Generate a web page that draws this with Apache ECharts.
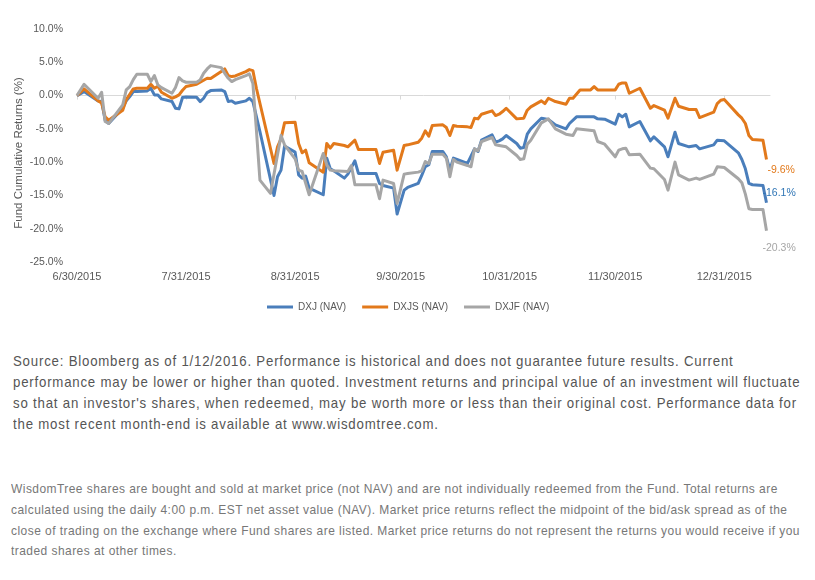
<!DOCTYPE html>
<html>
<head>
<meta charset="utf-8">
<script src="https://cdn.jsdelivr.net/npm/echarts@6/dist/echarts.min.js"></script>
<style>
  html, body { margin: 0; padding: 0; background: #fff; }
  #wrap { position: relative; width: 815px; height: 580px; overflow: hidden; }
  #chart { position: absolute; left: 0; top: 0; width: 815px; height: 330px; }
  .note { position: absolute; margin: 0; white-space: nowrap; transform-origin: 0 0;
          font-family: "Liberation Sans", Arial, sans-serif; }
  #note1 { left: 13px; top: 350px; font-size: 15px; line-height: 21px; letter-spacing: 0.9px; color: #555; }
  #note2 { left: 11px; top: 479px; font-size: 13px; line-height: 20.8px; letter-spacing: 0.5px; color: #777; }
</style>
</head>
<body>
<div id="wrap">
  <div id="chart"></div>
  <p class="note" id="note1">Source: Bloomberg as of 1/12/2016. Performance is historical and does not guarantee future results. Current<br>performance may be lower or higher than quoted. Investment returns and principal value of an investment will fluctuate<br>so that an investor's shares, when redeemed, may be worth more or less than their original cost. Performance data for<br>the most recent month-end is available at www.wisdomtree.com.</p>
  <p class="note" id="note2">WisdomTree shares are bought and sold at market price (not NAV) and are not individually redeemed from the Fund. Total returns are<br>calculated using the daily 4:00 p.m. EST net asset value (NAV). Market price returns reflect the midpoint of the bid/ask spread as of the<br>close of trading on the exchange where Fund shares are listed. Market price returns do not represent the returns you would receive if you<br>traded shares at other times.</p>
</div>
<script>
// tick labels (month ends)
var tickDates = ['2015-06-30', '2015-07-31', '2015-08-31', '2015-09-30', '2015-10-31', '2015-11-30', '2015-12-31'];
var yTicks = [-25, -20, -15, -10, -5, 0, 5, 10];

// DXJ (NAV) - cumulative return %
var dxjDates = ['2015-06-30','2015-07-02','2015-07-06','2015-07-07','2015-07-08','2015-07-09','2015-07-13','2015-07-14','2015-07-15','2015-07-16',
  '2015-07-17','2015-07-20','2015-07-21','2015-07-22','2015-07-23','2015-07-24','2015-07-27','2015-07-28','2015-07-29','2015-07-30',
  '2015-07-31','2015-08-03','2015-08-04','2015-08-05','2015-08-06','2015-08-07','2015-08-10','2015-08-11','2015-08-12','2015-08-13',
  '2015-08-14','2015-08-17','2015-08-18','2015-08-19','2015-08-21','2015-08-25','2015-08-26','2015-08-27','2015-08-28','2015-08-31',
  '2015-09-01','2015-09-02','2015-09-03','2015-09-04','2015-09-08','2015-09-09','2015-09-10','2015-09-11','2015-09-14','2015-09-15',
  '2015-09-17','2015-09-18','2015-09-23','2015-09-24','2015-09-25','2015-09-28','2015-09-29','2015-10-01','2015-10-02','2015-10-05',
  '2015-10-06','2015-10-07','2015-10-08','2015-10-09','2015-10-12','2015-10-13','2015-10-14','2015-10-15','2015-10-16','2015-10-19',
  '2015-10-21','2015-10-22','2015-10-23','2015-10-26','2015-10-27','2015-10-28','2015-10-29','2015-10-30','2015-11-02','2015-11-03',
  '2015-11-04','2015-11-05','2015-11-06','2015-11-09','2015-11-11','2015-11-13','2015-11-16','2015-11-17','2015-11-19','2015-11-24',
  '2015-11-25','2015-11-27','2015-11-30','2015-12-01','2015-12-02','2015-12-03','2015-12-04','2015-12-07','2015-12-10','2015-12-11',
  '2015-12-14','2015-12-15','2015-12-17','2015-12-18','2015-12-21','2015-12-23','2015-12-24','2015-12-28','2015-12-29','2015-12-31',
  '2016-01-04','2016-01-05','2016-01-06','2016-01-07','2016-01-08','2016-01-11','2016-01-12'];
var dxjValues = [0, 0.6, -0.8, -0.9, -3.7, -4.2, -1.9, -0.8, -0.15, 0.6,
  0.6, 0.7, 1.1, 0.1, 0.1, -0.5, -0.9, -1.9, -2.0, -0.3,
  -0.2, -0.25, -0.9, -0.4, 0.45, 0.75, 0.85, 0.6, -0.9, -0.8,
  -1.15, -0.8, -0.4, -0.9, -5.4, -15.0, -12.2, -11.2, -7.6, -8.5,
  -11.9, -12.4, -12.1, -13.9, -14.9, -9.4, -11.0, -11.3, -12.4, -11.8,
  -9.8, -11.7, -11.7, -13.2, -13.5, -13.9, -17.8, -14.2, -13.8, -13.2,
  -12.0, -10.7, -10.4, -8.4, -8.4, -9.2, -11.2, -9.4, -9.6, -10.2,
  -8.0, -8.4, -6.7, -5.9, -7.0, -6.8, -6.5, -6.0, -7.2, -7.9,
  -7.8, -5.8, -5.0, -3.4, -3.6, -4.4, -5.0, -4.2, -3.2, -3.2,
  -3.5, -3.55, -4.3, -2.8, -3.2, -2.8, -4.7, -3.9, -6.8, -6.2,
  -7.7, -9.2, -5.5, -7.2, -7.7, -7.5, -8.0, -7.4, -6.7, -6.8,
  -8.6, -9.6, -11.0, -13.2, -13.4, -13.5, -16.1];

// DXJS (NAV)
var dxjsDates = ['2015-06-30','2015-07-02','2015-07-06','2015-07-07','2015-07-08','2015-07-09','2015-07-13','2015-07-14','2015-07-15','2015-07-16',
  '2015-07-17','2015-07-20','2015-07-21','2015-07-22','2015-07-23','2015-07-24','2015-07-27','2015-07-28','2015-07-29','2015-07-30',
  '2015-07-31','2015-08-03','2015-08-04','2015-08-05','2015-08-06','2015-08-07','2015-08-10','2015-08-11','2015-08-12','2015-08-13',
  '2015-08-14','2015-08-17','2015-08-18','2015-08-19','2015-08-20','2015-08-25','2015-08-26','2015-08-27','2015-08-28','2015-08-31',
  '2015-09-01','2015-09-02','2015-09-03','2015-09-04','2015-09-08','2015-09-09','2015-09-10','2015-09-11','2015-09-14','2015-09-15',
  '2015-09-17','2015-09-18','2015-09-23','2015-09-24','2015-09-25','2015-09-28','2015-09-29','2015-10-01','2015-10-02','2015-10-05',
  '2015-10-06','2015-10-07','2015-10-08','2015-10-09','2015-10-12','2015-10-13','2015-10-14','2015-10-15','2015-10-16','2015-10-19',
  '2015-10-20','2015-10-21','2015-10-22','2015-10-23','2015-10-26','2015-10-27','2015-10-28','2015-10-29','2015-10-30','2015-11-02',
  '2015-11-04','2015-11-05','2015-11-06','2015-11-09','2015-11-10','2015-11-11','2015-11-13','2015-11-16','2015-11-17','2015-11-18',
  '2015-11-20','2015-11-23','2015-11-24','2015-11-25','2015-11-30','2015-12-01','2015-12-02','2015-12-03','2015-12-04','2015-12-07',
  '2015-12-10','2015-12-11','2015-12-14','2015-12-15','2015-12-17','2015-12-18','2015-12-21','2015-12-23','2015-12-24','2015-12-28',
  '2015-12-29','2015-12-30','2015-12-31','2016-01-04','2016-01-05','2016-01-06','2016-01-07','2016-01-08','2016-01-11','2016-01-12'];
var dxjsValues = [0, 1.0, -0.8, -1.1, -3.2, -3.7, -2.2, -0.6, 0.2, 1.0,
  1.1, 1.1, 1.7, 1.1, 1.4, 0.5, -0.4, -0.2, 0.1, 0.8,
  1.35, 1.7, 2.0, 2.3, 2.6, 2.55, 3.6, 4.0, 3.0, 2.85,
  2.95, 3.6, 3.9, 3.75, 1.1, -10.2, -7.7, -6.5, -4.1, -4.0,
  -7.2, -8.6, -8.2, -10.1, -11.5, -7.2, -7.9, -7.2, -7.5, -7.7,
  -6.7, -8.1, -8.1, -10.2, -8.5, -8.2, -11.2, -7.5, -7.4, -7.0,
  -6.4, -5.3, -6.1, -4.5, -4.4, -4.8, -6.0, -4.5, -4.6, -4.7,
  -4.8, -3.4, -3.5, -2.8, -2.3, -3.0, -2.8, -2.4, -1.9, -3.5,
  -3.4, -2.2, -1.7, -0.8, -1.2, -0.4, -0.9, -1.3, -0.4, -0.4,
  0.85, 0.85, 1.35, 0.85, 0.85, 1.7, 1.9, 1.9, 0.35, 1.1,
  -1.9, -1.5, -2.2, -3.4, -0.4, -1.6, -2.1, -2.1, -3.3, -2.5,
  -1.2, -0.7, -0.6, -2.9, -3.4, -4.2, -6.0, -6.6, -6.7, -9.6];

// DXJF (NAV)
var dxjfDates = ['2015-06-30','2015-07-02','2015-07-06','2015-07-07','2015-07-08','2015-07-09','2015-07-13','2015-07-14','2015-07-15','2015-07-16',
  '2015-07-17','2015-07-20','2015-07-21','2015-07-22','2015-07-23','2015-07-24','2015-07-27','2015-07-28','2015-07-29','2015-07-30',
  '2015-07-31','2015-08-03','2015-08-04','2015-08-05','2015-08-06','2015-08-07','2015-08-10','2015-08-11','2015-08-12','2015-08-13',
  '2015-08-14','2015-08-17','2015-08-18','2015-08-19','2015-08-20','2015-08-21','2015-08-24','2015-08-27','2015-08-28','2015-08-31',
  '2015-09-01','2015-09-02','2015-09-04','2015-09-08','2015-09-09','2015-09-10','2015-09-11','2015-09-15','2015-09-16','2015-09-17',
  '2015-09-23','2015-09-24','2015-09-25','2015-09-28','2015-09-29','2015-10-01','2015-10-02','2015-10-05','2015-10-06','2015-10-07',
  '2015-10-08','2015-10-09','2015-10-12','2015-10-13','2015-10-14','2015-10-15','2015-10-16','2015-10-19','2015-10-20','2015-10-21',
  '2015-10-22','2015-10-23','2015-10-26','2015-10-27','2015-10-28','2015-10-30','2015-11-02','2015-11-03','2015-11-04','2015-11-05',
  '2015-11-06','2015-11-09','2015-11-11','2015-11-13','2015-11-16','2015-11-18','2015-11-19','2015-11-24','2015-11-25','2015-11-27',
  '2015-11-30','2015-12-01','2015-12-02','2015-12-03','2015-12-04','2015-12-07','2015-12-10','2015-12-11','2015-12-14','2015-12-15',
  '2015-12-17','2015-12-18','2015-12-21','2015-12-23','2015-12-24','2015-12-28','2015-12-29','2015-12-31','2016-01-04','2016-01-05',
  '2016-01-06','2016-01-07','2016-01-08','2016-01-11','2016-01-12'];
var dxjfValues = [0, 1.7, -0.4, 0.5, -3.9, -4.2, -1.4, 0.85, 1.35, 2.4,
  3.2, 3.2, 2.1, 3.0, 1.6, 1.2, 0.35, 1.2, 2.7, 2.2,
  2.0, 2.0, 2.35, 3.35, 4.0, 4.5, 4.2, 3.35, 2.6, 2.1,
  2.4, 3.0, 3.25, 1.8, -5.2, -12.7, -14.7, -6.0, -7.4, -9.5,
  -11.2, -11.4, -14.9, -8.7, -10.4, -11.2, -11.3, -11.4, -10.5, -13.4,
  -13.4, -15.5, -12.7, -13.2, -16.2, -11.8, -11.7, -11.5, -11.3, -9.9,
  -10.2, -8.8, -8.8, -9.4, -12.2, -9.6, -10.0, -10.5, -10.7, -8.0,
  -8.3, -6.9, -6.3, -7.4, -7.5, -7.7, -9.0, -9.6, -9.5, -7.3,
  -6.7, -4.1, -3.5, -5.0, -5.8, -6.0, -5.0, -5.3, -6.9, -7.3,
  -9.2, -8.2, -8.0, -7.9, -8.9, -8.8, -10.9, -11.0, -12.6, -14.2,
  -10.0, -11.9, -12.7, -12.4, -12.6, -11.8, -10.7, -10.8, -12.5, -13.1,
  -14.8, -17.0, -17.1, -17.1, -20.3];

function toTime(s) {
  var p = s.split('-');
  return Date.UTC(+p[0], +p[1] - 1, +p[2]);
}
function fmtDate(v) {
  var d = new Date(v);
  return (d.getUTCMonth() + 1) + '/' + d.getUTCDate() + '/' + d.getUTCFullYear();
}
function zip(dates, values) {
  return dates.map(function (d, i) { return [toTime(d), values[i]]; });
}

// squeeze the footnotes so their widest line fits the given width (condensed look)
function fitWidth(id, target) {
  var el = document.getElementById(id);
  var w = el.scrollWidth;
  el.style.transform = 'scaleX(' + (target / w) + ')';
}
fitWidth('note1', 787);
fitWidth('note2', 789);

var labelFont = 'Liberation Sans, Arial, sans-serif';
var tickValues = tickDates.map(toTime);
var xMin = toTime('2015-06-30');
var xMax = toTime('2016-01-13');

function lineSeries(name, data, color, labelColor, offset) {
  return {
    name: name,
    type: 'line',
    xAxisIndex: 0,
    data: data,
    showSymbol: false,
    symbol: 'none',
    lineStyle: { color: color, width: 3, join: 'round' },
    itemStyle: { color: color },
    endLabel: {
      show: true,
      distance: 0,
      offset: offset,
      color: labelColor,
      fontSize: 10.5,
      fontFamily: labelFont,
      formatter: function (p) { return p.value[1].toFixed(1) + '%'; }
    }
  };
}

var chart = echarts.init(document.getElementById('chart'));
chart.setOption({
  animation: false,
  backgroundColor: '#fff',
  grid: { left: 77, right: 45, top: 29, height: 233 },
  legend: {
    left: 262,
    top: 297,
    icon: 'rect',
    itemWidth: 26,
    itemHeight: 3,
    itemGap: 16,
    textStyle: { color: '#595959', fontSize: 10, fontFamily: labelFont },
    data: ['DXJ (NAV)', 'DXJS (NAV)', 'DXJF (NAV)']
  },
  graphic: [{
    type: 'text',
    x: 19,
    y: 153,
    rotation: Math.PI / 2,
    style: {
      text: 'Fund Cumulative Returns (%)',
      fill: '#595959',
      font: '11.5px Liberation Sans, Arial, sans-serif',
      align: 'center',
      verticalAlign: 'middle'
    }
  }],
  xAxis: [{
    type: 'value',
    min: xMin,
    max: xMax,
    axisLine: { show: false, onZero: false },
    axisTick: { show: false },
    splitLine: { show: false },
    axisLabel: {
      customValues: tickValues,
      formatter: fmtDate,
      color: '#595959',
      fontSize: 11,
      fontFamily: labelFont,
      margin: 9
    }
  }, {
    type: 'value',
    position: 'top',
    min: xMin,
    max: xMax,
    axisLine: { show: true, onZero: true, lineStyle: { color: '#d9d9d9', width: 1 } },
    axisTick: { show: true, inside: true, length: 4, customValues: tickValues, lineStyle: { color: '#d9d9d9' } },
    axisLabel: { show: false },
    splitLine: { show: false }
  }],
  yAxis: {
    type: 'value',
    min: -25,
    max: 10,
    interval: 5,
    axisLine: { show: false, onZero: false },
    axisTick: { show: false },
    splitLine: { show: false },
    axisLabel: {
      customValues: yTicks,
      formatter: function (v) { return v.toFixed(1) + '%'; },
      color: '#595959',
      fontSize: 10.5,
      fontFamily: labelFont,
      margin: 14
    }
  },
  series: [
    lineSeries('DXJ (NAV)', zip(dxjDates, dxjValues), '#4a7ebb', '#2f75b5', [-4, -10]),
    lineSeries('DXJS (NAV)', zip(dxjsDates, dxjsValues), '#e2791b', '#e2791b', [1, 11]),
    lineSeries('DXJF (NAV)', zip(dxjfDates, dxjfValues), '#a6a6a6', '#a6a6a6', [-4, 17])
  ]
});
</script>
</body>
</html>
